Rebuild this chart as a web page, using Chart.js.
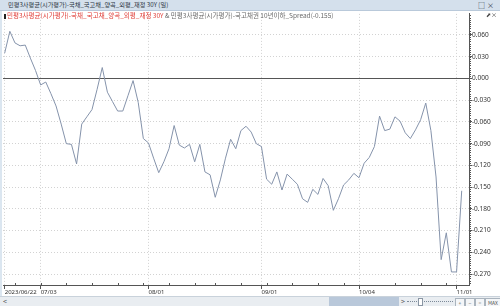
<!DOCTYPE html>
<html>
<head>
<meta charset="utf-8">
<script src="https://cdn.jsdelivr.net/npm/chart.js@4/dist/chart.umd.min.js"></script>
<style>
  html, body { margin: 0; padding: 0; }
  body { width: 500px; height: 306px; position: relative; overflow: hidden; background: #fff;
         font-family: "Noto Sans CJK KR", "Noto Sans", sans-serif; }
  #head { position: absolute; left: 0; top: 0; width: 500px; height: 10px; background: #d4e0ec;
          border-bottom: 1px solid #b9c9da; font-size: 6.2px; line-height: 10px; color: #2a3440; }
  #head .t { position: absolute; left: 8px; top: 0; }
  #head .ic { position: absolute; right: 4px; top: 0; font-size: 7px; letter-spacing: 2px; }
  #leftbar { position: absolute; left: 0; top: 11px; width: 2px; height: 285px; background: #dbe6f0; }
  #legend { position: absolute; left: 4px; top: 11px; font-size: 6.5px; line-height: 8px; white-space: nowrap; z-index: 2; }
  #legend .mk { display: inline-block; width: 2px; height: 5px; background: #222; vertical-align: -1px; margin-right: 1px; }
  #legend .r { color: #e0403a; }
  #legend .g { color: #6a6a6a; }
  #legend2 { position: absolute; right: 3px; top: 11px; font-size: 6px; line-height: 8px; color: #444; z-index: 2; }
  #wrap { position: absolute; left: 0; top: 10px; width: 500px; height: 286px; }
  #scroll { position: absolute; left: 0; top: 296px; width: 500px; height: 10px; background: #e9edf1;
            border-top: 1px solid #c9d2db; font-size: 7px; line-height: 9px; color: #555; }
  #scroll div { position: absolute; top: 0; }
  .btn { border: 1px solid #aab4be; background: #f4f6f8; height: 7px; line-height: 7px; text-align: center; font-size: 5px; }
</style>
</head>
<body>
<div id="head"><span class="t">민평3사평균(시가평가)-국채_국고채_양곡_외평_재정 30Y (일)</span><span class="ic">□×</span></div>
<div id="leftbar"></div>
<div id="wrap"><canvas id="c"></canvas></div>
<div id="legend"><span class="mk"></span><span class="r">민평3사평균(시가평가)-국채_국고채_양곡_외평_재정 30Y</span> <span class="g">&amp; 민평3사평균(시가평가)-국고채권 10년이하_Spread(-0.155)</span></div>
<div id="legend2">⬈×</div>
<div id="scroll">
  <div style="left:3px;">&lt;</div>
  <div style="left:329px; width:70px; height:9px; background:#b9c8da;"></div>
  <div style="left:401px;">&gt;</div>
  <div style="left:407px; top:4px; width:46px; height:0; border-top:1px dotted #7d8a99;"></div>
  <div style="left:418px; top:1px; width:3px; height:6px; border:1px solid #8a96a4; background:#fff;"></div>
  <div class="btn" style="left:455px; top:1px; width:8px;">+</div>
  <div class="btn" style="left:465px; top:1px; width:8px;">−</div>
  <div class="btn" style="left:475px; top:1px; width:8px;">=</div>
  <div class="btn" style="left:485px; top:1px; width:14px;">MAX</div>
</div>
<script>
const dates = [
  '06/22','06/23','06/26','06/27','06/28','06/29','06/30',
  '07/03','07/04','07/05','07/06','07/07','07/10','07/11','07/12','07/13','07/14','07/17','07/18','07/19','07/20','07/21','07/24','07/25','07/26','07/27','07/28','07/31',
  '08/01','08/02','08/03','08/04','08/07','08/08','08/09','08/10','08/11','08/14','08/16','08/17','08/18','08/21','08/22','08/23','08/24','08/25','08/28','08/29','08/30','08/31',
  '09/01','09/04','09/05','09/06','09/07','09/08','09/11','09/12','09/13','09/14','09/15','09/18','09/19','09/20','09/21','09/22','09/25','09/26','09/27',
  '10/04','10/05','10/06','10/10','10/11','10/12','10/13','10/16','10/17','10/18','10/19','10/20','10/23','10/24','10/25','10/26','10/27','10/30','10/31',
  '11/01','11/02'
];
const spread = [
  0.035, 0.065, 0.049, 0.045, 0.046, 0.028, 0.011,
  -0.009, -0.005, -0.021, -0.038, -0.063, -0.090, -0.091, -0.118, -0.063, -0.053, -0.043, -0.015, 0.015, -0.019, -0.032, -0.045, -0.045, -0.024, -0.003, -0.033, -0.083,
  -0.089, -0.110, -0.130, -0.115, -0.097, -0.065, -0.092, -0.096, -0.091, -0.115, -0.091, -0.129, -0.133, -0.164, -0.140, -0.110, -0.084, -0.097, -0.072, -0.066, -0.074, -0.090,
  -0.094, -0.139, -0.146, -0.129, -0.154, -0.132, -0.139, -0.146, -0.166, -0.171, -0.153, -0.160, -0.138, -0.148, -0.182, -0.166, -0.147, -0.140, -0.131,
  -0.137, -0.117, -0.109, -0.094, -0.052, -0.072, -0.070, -0.053, -0.059, -0.075, -0.083, -0.071, -0.057, -0.034, -0.072, -0.136, -0.250, -0.213, -0.267,
  -0.267, -0.155
];
const xTickDates = ['06/22', '07/03', '08/01', '09/01', '10/04', '11/01'];
const firstYear = '2023';
const yTicks = [-0.27, -0.24, -0.21, -0.18, -0.15, -0.12, -0.09, -0.06, -0.03, 0, 0.03, 0.06];

const tickFamily = '"Noto Sans", sans-serif';

// small minor ticks: weekly on the date axis, every 0.003 on the value axis
const minorTicks = {
  id: 'minorTicks',
  afterDraw(chart) {
    const { ctx, chartArea: a, scales: { x, y } } = chart;
    ctx.save();
    ctx.strokeStyle = '#555';
    ctx.lineWidth = 1;
    ctx.beginPath();
    dates.forEach((d, i) => {
      const [m, dd] = d.split('/').map(Number);
      if (new Date(+firstYear, m - 1, dd).getDay() !== 1) return;
      const px = Math.round(x.getPixelForValue(i)) + 0.5;
      ctx.moveTo(px, a.bottom);
      ctx.lineTo(px, a.bottom - 2);
    });
    for (let k = Math.ceil(y.min / 0.003); k * 0.003 <= y.max; k++) {
      const py = Math.round(y.getPixelForValue(k * 0.003)) + 0.5;
      ctx.moveTo(a.right, py);
      ctx.lineTo(a.right + 2, py);
    }
    ctx.stroke();
    ctx.restore();
  }
};

new Chart(document.getElementById('c'), {
  type: 'line',
  data: {
    datasets: [{
      data: dates.map((d, i) => ({ x: i, y: spread[i] })),
      borderColor: '#8593ab',
      borderWidth: 1,
      pointRadius: 0,
      tension: 0
    }]
  },
  options: {
    responsive: true,
    maintainAspectRatio: false,
    animation: false,
    layout: { padding: { left: 3, top: 3, right: 0, bottom: 0 } },
    plugins: { legend: { display: false }, tooltip: { enabled: false } },
    scales: {
      x: {
        type: 'linear',
        min: -0.33,
        max: 90.42,
        afterBuildTicks: s => { s.ticks = xTickDates.map(d => ({ value: dates.indexOf(d) })); },
        afterFit: s => { s.height = 11; },
        ticks: {
          autoSkip: false, maxRotation: 0, align: 'start', padding: 0,
          color: '#333', font: { family: tickFamily, size: 6 },
          callback: v => v === 0 ? firstYear + '/' + dates[0] : dates[v]
        },
        grid: { color: '#d2d2d2', tickColor: '#555', tickLength: 4 },
        border: { display: true, color: '#555', dash: ctx => ctx.tick ? [1, 2] : [] }
      },
      y: {
        position: 'right',
        min: -0.285,
        max: 0.089,
        afterBuildTicks: s => { s.ticks = yTicks.map(v => ({ value: v })); },
        afterFit: s => { s.width = 31; },
        ticks: {
          padding: 0, color: '#333', font: { family: tickFamily, size: 6.5 },
          callback: v => v.toFixed(3)
        },
        grid: {
          color: ctx => ctx.tick && ctx.tick.value === 0 ? '#555' : '#d2d2d2',
          tickColor: '#555', tickLength: 3
        },
        border: { display: true, color: '#555', dash: ctx => ctx.tick && ctx.tick.value !== 0 ? [1, 2] : [] }
      }
    }
  },
  plugins: [minorTicks]
});
</script>
</body>
</html>
